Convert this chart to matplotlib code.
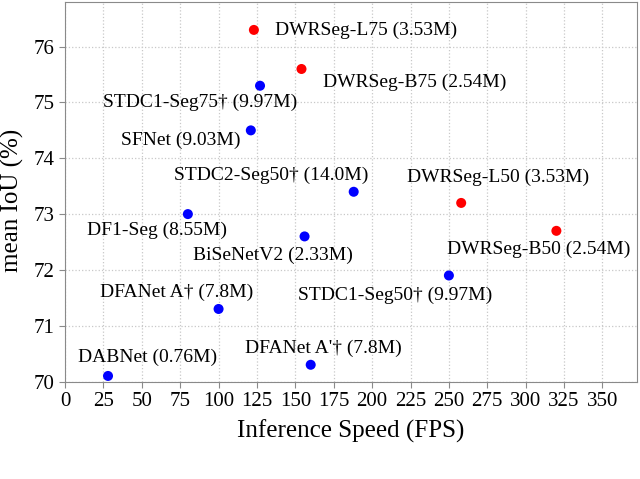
import matplotlib
matplotlib.use("Agg")
import matplotlib.pyplot as plt

plt.rcParams['font.family'] = ['Liberation Serif', 'DejaVu Serif']

names = ["DWRSeg-L75 (3.53M)", "DWRSeg-B75 (2.54M)", "STDC1-Seg75\u2020 (9.97M)",
         "SFNet (9.03M)", "STDC2-Seg50\u2020 (14.0M)", "DWRSeg-L50 (3.53M)",
         "DF1-Seg (8.55M)", "BiSeNetV2 (2.33M)", "DWRSeg-B50 (2.54M)",
         "STDC1-Seg50\u2020 (9.97M)", "DFANet A\u2020 (7.8M)", "DABNet (0.76M)",
         "DFANet A'\u2020 (7.8M)"]
fps = [123, 154, 127, 121, 188, 258, 80, 156, 320, 250, 100, 28, 160]
miou = [76.3, 75.6, 75.3, 74.5, 73.4, 73.2, 73.0, 72.6, 72.7, 71.9, 71.3, 70.1, 70.3]
ours = [True, True, False, False, False, True, False, False, True, False, False, False, False]

# label anchor (left edge x, vertical center y) in data coordinates
label_x = [137, 168, 25, 36.5, 71, 223, 14.5, 83.5, 248.5, 152, 23, 8.7, 117.5]
label_y = [76.3, 75.36, 75.0, 74.33, 73.69, 73.66, 72.71, 72.26, 72.36, 71.55, 71.59, 70.43, 70.59]

xticks = list(range(0, 351, 25))
yticks = [70, 71, 72, 73, 74, 75, 76]

fig = plt.figure(figsize=(6.4, 4.79), dpi=100)
ax = fig.add_axes([0.1016, 0.2035, 0.8937, 0.7923])

colors = ['red' if o else 'blue' for o in ours]
ax.scatter(fps, miou, s=52, c=colors, zorder=3, linewidths=0)
for n, lx, ly in zip(names, label_x, label_y):
    ax.text(lx, ly, n, fontsize=14, ha='left', va='center', zorder=4)

ax.set_xlim(0, 372.5)
ax.set_ylim(70, 76.8)
ax.set_xticks(xticks)
ax.set_yticks(yticks)
ax.grid(True, linestyle=':', color='#c8c8c8', linewidth=0.9)
ax.set_axisbelow(True)
for s in ax.spines.values():
    s.set_color('#8a8a8a')
ax.tick_params(direction='out', color='#8a8a8a', length=4, labelsize=15)
ax.set_xlabel("Inference Speed (FPS)", fontsize=18, labelpad=6)
ax.set_ylabel("mean IoU (%)", fontsize=18)
ax.yaxis.set_label_coords(-0.071, 0.478)

fig.savefig("out.png", dpi=100)
